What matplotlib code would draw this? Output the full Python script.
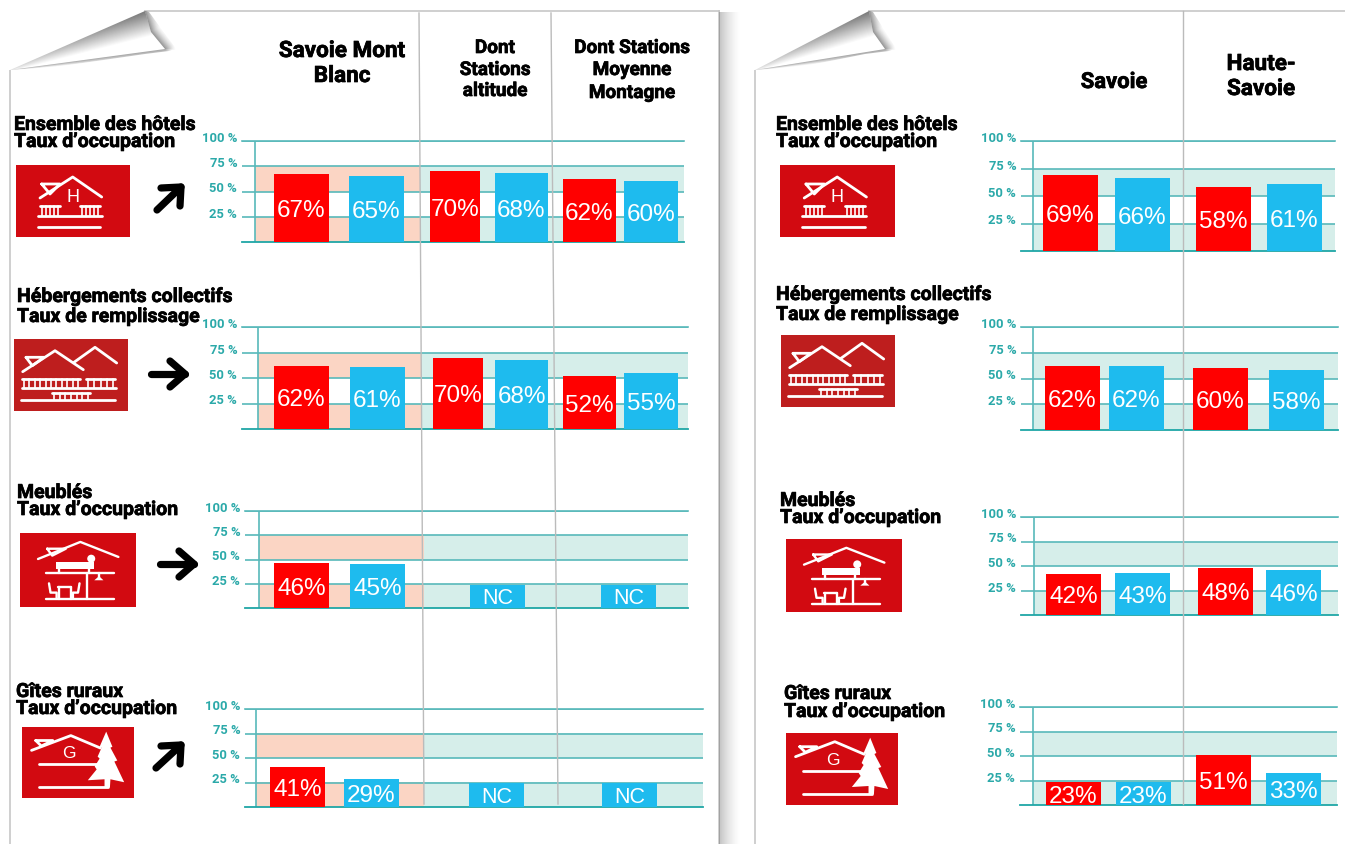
import numpy as np
import matplotlib
matplotlib.use("Agg")
import matplotlib.pyplot as plt
import matplotlib.patheffects as pe
from matplotlib.patches import Polygon, Rectangle, Circle
from matplotlib.transforms import ScaledTranslation

# ---------- data ----------
tick_values = [25, 50, 75, 100]
tick_labels = ["25 %", "50 %", "75 %", "100 %"]

hotels_smb = [67, 65, 70, 68, 62, 60]
collectifs_smb = [62, 61, 70, 68, 52, 55]
meubles_smb = [46, 45, None, None, None, None]
gites_smb = [41, 29, None, None, None, None]

hotels_dept = [69, 66, 58, 61]
collectifs_dept = [62, 62, 60, 58]
meubles_dept = [42, 43, 48, 46]
gites_dept = [23, 23, 51, 33]

NC_LABEL = "NC"
NC_HEIGHT = 24

# ---------- layout (pixels) ----------
W, H = 1345, 845
RED, BLUE = "#FF0000", "#1EBBEE"
SALMON, TEAL = "#FBD5C4", "#D6EEEA"
LINE, BASE = "#58B9BA", "#1FA6A6"
TICKC = "#2BA9A9"
ICON_RED, ICON_RED2 = "#D20A11", "#BE1E1E"
HEAD = "Roboto"

bars_L = [
    [274, 349, 430, 495, 563, 624],
    [274, 350, 433, 495, 563, 624],
    [274, 350, 470, 470, 601, 601],
    [270, 344, 469, 469, 602, 602],
]
widths_L = [[55, 55, 50, 53, 53, 54], [55, 55, 50, 53, 53, 54],
            [55, 55, 55, 55, 55, 55], [55, 55, 55, 55, 55, 55]]
bars_R = [
    [1043, 1115, 1196, 1267],
    [1045, 1109, 1193, 1269],
    [1046, 1115, 1198, 1266],
    [1046, 1116, 1196, 1266],
]

# x0, x1, axis, y100, y0, salmon end
charts_L = [(242, 684, 255, 142, 243, 420), (242, 688, 258, 328, 430, 421),
            (245, 688, 259, 512, 609, 424), (245, 703, 256, 710, 808, 424)]
charts_R = [(1021, 1335, 1033, 142, 252, None), (1021, 1338, 1033, 328, 431, None),
            (1021, 1338, 1034, 518, 616, None), (1020, 1337, 1033, 708, 806, None)]

fig = plt.figure(figsize=(W / 100, H / 100), dpi=100, facecolor="white")


def full_axes(z):
    a = fig.add_axes([0, 0, 1, 1], zorder=z)
    a.set_xlim(0, W)
    a.set_ylim(H, 0)
    a.axis("off")
    a.patch.set_visible(False)
    return a


bg = full_axes(0)
fg = full_axes(3)


def shade(poly, alpha_fn, grey=0.15):
    xs = np.array([p[0] for p in poly])
    ys = np.array([p[1] for p in poly])
    x0, x1, y0, y1 = xs.min() - 1, xs.max() + 1, ys.min() - 1, ys.max() + 1
    nx, ny = int((x1 - x0) * 2), int((y1 - y0) * 2)
    X, Y = np.meshgrid(np.linspace(x0, x1, nx), np.linspace(y0, y1, ny))
    img = np.zeros((ny, nx, 4))
    img[..., :3] = grey
    img[..., 3] = alpha_fn(X, Y)
    im = bg.imshow(img, extent=(x0, x1, y1, y0), aspect="auto", zorder=3, interpolation="bilinear")
    clip = Polygon(poly, closed=True, transform=bg.transData, fc="none", ec="none")
    bg.add_patch(clip)
    im.set_clip_path(clip)
    bg.set_xlim(0, W)
    bg.set_ylim(H, 0)


def seg(X, Y, P, Q):
    P, Q = np.array(P, float), np.array(Q, float)
    v = Q - P
    t = np.clip(((X - P[0]) * v[0] + (Y - P[1]) * v[1]) / (v @ v), 0, 1)
    return np.hypot(X - (P[0] + t * v[0]), Y - (P[1] + t * v[1])), t


def paper(C, A, B, right=None):
    xl = C[0]
    bg.plot([xl, xl], [C[1], H], color="#CFCFCF", lw=1.4, zorder=2, solid_capstyle="butt")
    bg.plot([A[0], right if right else W], [A[1], A[1]], color="#CFCFCF", lw=1.4, zorder=2)
    M = ((A[0] + B[0]) / 2 - 4, (A[1] + B[1]) / 2 + 2)
    P = (B[0] + 12, B[1] + 1)
    Q = (C[0] + 45, C[1] - 3)

    def outer(X, Y):
        d = np.minimum(seg(X, Y, A, M)[0], seg(X, Y, M, B)[0])
        return 0.5 * np.clip(1 - d / 11, 0, 1) ** 1.4
    shade([A, (A[0] + 4, A[1] + 1), P, B, M], outer)
    shade([B, P, (B[0] - 20, B[1] + 5), Q, C],
          lambda X, Y: 0.42 * np.clip(1 - seg(X, Y, B, C)[0] / (1 + 6 * seg(X, Y, C, B)[1]), 0, 1))
    bg.add_patch(Polygon([C, A, M, B], closed=True, fc="white", ec="none", zorder=2.5))

    def inner(X, Y):
        d, t = seg(X, Y, C, A)
        return 0.62 * np.clip(1 - d / (2 + 24 * t), 0, 1) * (0.25 + 0.75 * t)
    shade([C, A, M, B], inner)


paper((10, 71), (145, 12), (165, 50), right=719)
paper((755, 71), (869, 12), (885, 50))
bg.plot([719, 719], [12, H], color="#C8C8C8", lw=1.2, zorder=2)
shade([(719, 13), (742, 13), (742, H), (719, H)],
      lambda X, Y: 0.28 * np.clip(1 - (X - 719) / 22, 0, 1) ** 1.5)


def chart(geom, values, xs, widths):
    x0, x1, axis_x, y100, y0, salmon_end = geom
    ax = fig.add_axes([x0 / W, 1 - y0 / H, (x1 - x0) / W, (y0 - y100) / H], zorder=2)
    ax.patch.set_visible(False)
    ax.set_xlim(x0, x1)
    ax.set_ylim(0, 100)
    for lo, hi in ((0, 25), (50, 75)):
        if salmon_end:
            ax.fill_between([axis_x, salmon_end], lo, hi, color=SALMON, lw=0, zorder=1)
            ax.fill_between([salmon_end, x1], lo, hi, color=TEAL, lw=0, zorder=1)
        else:
            ax.fill_between([axis_x, x1], lo, hi, color=TEAL, lw=0, zorder=1)
    ax.set_yticks(tick_values)
    ax.set_yticklabels(tick_labels, fontfamily=HEAD, fontweight="bold", fontsize=9.4, color=TICKC)
    ax.set_xticks([])
    ax.tick_params(axis="y", length=0, pad=3.5)
    ax.grid(axis="y", color=LINE, lw=1.2, zorder=2)
    ax.set_axisbelow(False)
    for gl in ax.get_ygridlines():
        gl.set_zorder(2)
    for s in ("left", "right"):
        ax.spines[s].set_visible(False)
    ax.spines["top"].set_color(LINE)
    ax.spines["top"].set_linewidth(1.2)
    ax.spines["bottom"].set_color(BASE)
    ax.spines["bottom"].set_linewidth(1.3)
    ax.vlines(axis_x, 0, 100, color=LINE, lw=1.2, zorder=2)
    off = ScaledTranslation(0, 5 / 100, fig.dpi_scale_trans)
    for lb in ax.get_yticklabels():
        lb.set_transform(lb.get_transform() + off)
    for i, (v, x, w) in enumerate(zip(values, xs, widths)):
        if v is None:
            if i % 2 == 0:
                ax.bar(x + w / 2, NC_HEIGHT, w, color=BLUE, zorder=3, lw=0)
                ax.text(x + w / 2, NC_HEIGHT / 2 - 1.5, NC_LABEL, color="white", fontsize=15.5,
                        family="Liberation Sans", ha="center", va="center", zorder=4)
            continue
        ax.bar(x + w / 2, v, w, color=RED if i % 2 == 0 else BLUE, zorder=3, lw=0)
        ax.text(x + w / 2, v / 2 - 2, f"{v}%", color="white", fontsize=17.5,
                family="Liberation Sans", ha="center", va="center", zorder=4)
    return ax


series_L = [hotels_smb, collectifs_smb, meubles_smb, gites_smb]
series_R = [hotels_dept, collectifs_dept, meubles_dept, gites_dept]
for g, v, x, w in zip(charts_L, series_L, bars_L, widths_L):
    chart(g, v, x, w)
for g, v, x in zip(charts_R, series_R, bars_R):
    chart(g, v, x, [55] * 4)

# separators
for xs, ys in (((419, 424), (14, 805)), ((551, 558), (14, 805)), ((1183, 1183), (12, 805))):
    fg.plot(xs, ys, color="#BBBBBB", lw=1.0, zorder=6)


# ---------- headings ----------
def head(x, y, s, size, ha="center"):
    fg.text(x, y + 2, s, family=HEAD, fontweight="bold", fontsize=size * 0.72, color="black",
            ha=ha, va="center", path_effects=[pe.withStroke(linewidth=0.5, foreground="black")])


for x, y, s, size in [
    (342, 50, "Savoie Mont", 22.5), (342, 75, "Blanc", 22.5),
    (495, 47, "Dont", 19), (495, 69, "Stations", 19), (495, 90, "altitude", 19),
    (632, 47, "Dont Stations", 19), (632, 69, "Moyenne", 19), (632, 92, "Montagne", 19),
    (1114, 81, "Savoie", 22), (1261, 63, "Haute-", 22.5), (1261, 88, "Savoie", 22.5),
]:
    head(x, y, s, size)

OCC = "Taux d\u2019occupation"
REM = "Taux de remplissage"
for x, y, s in [
    (14, 124, "Ensemble des hôtels"), (14, 141, OCC),
    (17, 296, "Hébergements collectifs"), (17, 316, REM),
    (17, 492, "Meublés"), (17, 509, OCC),
    (16, 691, "Gîtes ruraux"), (16, 708, OCC),
    (776, 124, "Ensemble des hôtels"), (776, 141, OCC),
    (776, 294, "Hébergements collectifs"), (776, 314, REM),
    (780, 500, "Meublés"), (780, 517, OCC),
    (784, 693, "Gîtes ruraux"), (784, 711, OCC),
]:
    head(x, y, s, 19.5, ha="left")


# ---------- icons ----------
def lines(x, y, sx, sy, segs, lw=2.0):
    for s in segs:
        fg.plot([x + p[0] * sx for p in s], [y + p[1] * sy for p in s],
                color="white", lw=lw, solid_capstyle="round", solid_joinstyle="round", zorder=8)


def balusters(x0, x1, ya, yb, n):
    return [[(b, ya), (b, yb)] for b in np.linspace(x0, x1, n)]


def icon_hotel(x, y, sx, sy):
    lines(x, y, sx, sy, [
        [(24, 33), (56.7, 12), (85.7, 32)],
        [(25.7, 19), (44, 19), (34, 29), (25.7, 19)],
        [(22, 50.7), (85.7, 50.7)], [(24, 41.3), (44, 41.3)], [(64, 41.3), (84, 41.3)],
        [(22, 62.3), (84, 62.3)],
    ])
    lines(x, y, sx, sy, balusters(26, 42, 41.3, 50.7, 5) + balusters(66, 82, 41.3, 50.7, 5), lw=1.2)
    fg.text(x + 56.7 * sx, y + 32 * sy, "H", color="white", fontsize=13, family="Liberation Sans",
            ha="center", va="center", zorder=8)


def icon_coll(x, y, sx, sy):
    lines(x, y, sx, sy, [
        [(8.7, 32.7), (41, 11.7), (69.3, 30.7)],
        [(60, 23.3), (81, 8.3), (102.7, 24)],
        [(12, 18.3), (30, 18.3), (18.3, 26.7), (12, 18.3)],
        [(7.7, 40), (66, 40)], [(72, 40), (101, 40)], [(7.7, 48.7), (102, 48.7)],
        [(37.7, 54), (76, 54)], [(6.7, 61), (101, 61)],
    ])
    lines(x, y, sx, sy, balusters(10, 64, 40, 48.7, 11) + balusters(74, 99, 40, 48.7, 5)
          + balusters(40, 74, 54, 61, 7), lw=1.2)


def icon_meuble(x, y, sx, sy):
    lines(x, y, sx, sy, [
        [(17.7, 25.3), (59.3, 8.7), (96.7, 23.3)],
        [(26.7, 15.3), (45, 15.3), (31.7, 22), (26.7, 15.3)],
        [(38.3, 35), (38.3, 39)], [(68, 35), (68, 39)],
        [(26, 39.3), (92.7, 39.3)], [(66, 39.3), (66, 64.3)], [(77.7, 39.3), (77.7, 43.3)],
        [(26, 64.3), (92.7, 64.3)],
        [(37, 53), (50, 53)], [(38, 53), (38, 64)], [(50, 53), (50, 64)],
        [(28.5, 49), (30, 58), (36, 58), (36, 64)], [(58.5, 49), (57, 58), (52, 58), (52, 64)],
    ], lw=1.7)
    fg.add_patch(Rectangle((x + 35 * sx, y + 28.7 * sy), 38 * sx, 6.6 * sy, fc="white", ec="none", zorder=8))
    fg.add_patch(Circle((x + 70 * sx, y + 25 * sy), 4, fc="white", ec="none", zorder=8))
    fg.add_patch(Polygon([(x + 73 * sx, y + 46 * sy), (x + 82 * sx, y + 46 * sy), (x + 77.7 * sx, y + 42 * sy)],
                         fc="white", ec="none", zorder=8))


def icon_gite(x, y, sx, sy):
    lines(x, y, sx, sy, [
        [(9.7, 23.7), (49.7, 8.7), (79.7, 21.3)],
        [(14, 13.7), (31.3, 13.7), (19.7, 19.3), (14, 13.7)],
        [(17.3, 37.7), (78, 37.7)], [(17.3, 61.3), (88, 61.3)],
    ])
    tree = [(85.7, 4.7), (92, 20), (90, 21), (97, 34), (94, 35), (104, 56), (90, 53), (89.5, 61), (84, 61),
            (84, 53), (67, 54), (76, 43), (74, 40), (79, 32), (77, 30), (81, 21), (79, 20)]
    fg.add_patch(Polygon([(x + a * sx, y + b * sy) for a, b in tree], fc="white", ec="none", zorder=8))
    fg.text(x + 47.3 * sx, y + 26.3 * sy, "G", color="white", fontsize=12.5, family="Liberation Sans",
            ha="center", va="center", zorder=8)


for (x0, y0, x1, y1, col, fn) in [
    (16, 166, 130, 238, ICON_RED, icon_hotel),
    (14, 340, 128, 412, ICON_RED2, icon_coll),
    (20, 534, 136, 608, ICON_RED, icon_meuble),
    (22, 728, 134, 799, ICON_RED, icon_gite),
    (780, 166, 895, 238, ICON_RED, icon_hotel),
    (781, 336, 895, 408, ICON_RED2, icon_coll),
    (786, 540, 902, 613, ICON_RED, icon_meuble),
    (786, 734, 898, 806, ICON_RED, icon_gite),
]:
    fg.add_patch(Rectangle((x0, y0), x1 - x0, y1 - y0, fc=col, ec="none", zorder=7))
    fn(x0, y0, (x1 - x0) / 114, (y1 - y0) / 72)


# ---------- trend arrows ----------
def arrow(shaft, arm1, tip, arm2):
    kw = dict(color="black", lw=5.2, solid_capstyle="round", solid_joinstyle="round", zorder=8)
    fg.plot([shaft[0], tip[0]], [shaft[1], tip[1]], **kw)
    fg.plot([arm1[0], tip[0], arm2[0]], [arm1[1], tip[1], arm2[1]], **kw)


arrow((157, 211), (161, 189), (181, 188), (180, 207))
arrow((151, 375), (170, 362), (185, 375), (170, 388))
arrow((160, 565), (179, 552), (194, 565), (179, 578))
arrow((156, 769), (161, 747), (181, 746), (180, 765))

fig.savefig("out.png", dpi=100)
